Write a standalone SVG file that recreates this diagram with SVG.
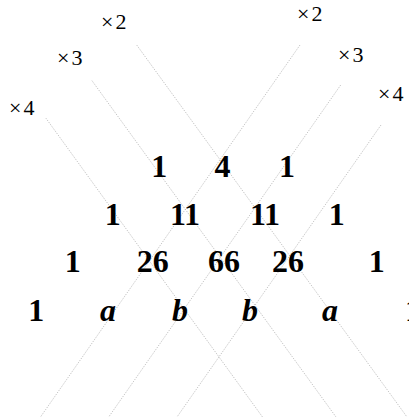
<svg xmlns="http://www.w3.org/2000/svg" width="409" height="419" viewBox="0 0 409 419">
<style>
.lbl{font-family:"Liberation Serif",serif;font-size:22px;letter-spacing:2px;fill:#000}
.num{font-family:"Liberation Serif",serif;font-size:32px;font-weight:bold;fill:#000;text-anchor:middle}
.var{font-family:"Liberation Serif",serif;font-size:32px;font-weight:bold;font-style:italic;fill:#000;text-anchor:middle}
.ln{stroke:#a8a8a8;stroke-width:0.8;stroke-dasharray:1 1.3;fill:none}
</style>
<rect width="409" height="419" fill="#fff"/>
<g id="connectors">
<line class="ln" x1="136.7" y1="45" x2="407" y2="417"/>
<line class="ln" x1="92" y1="80.7" x2="336" y2="417"/>
<line class="ln" x1="46" y1="118.3" x2="262.5" y2="417"/>
<line class="ln" x1="300" y1="45" x2="40.5" y2="417"/>
<line class="ln" x1="340.7" y1="85" x2="108.7" y2="417"/>
<line class="ln" x1="381" y1="125" x2="177" y2="417"/>
</g>
<g id="labels">
<text id="lx2l" class="lbl" x="101" y="29">×2</text>
<text id="lx3l" class="lbl" x="57" y="65">×3</text>
<text id="lx4l" class="lbl" x="9" y="115">×4</text>
<text id="lx2r" class="lbl" x="297" y="21">×2</text>
<text id="lx3r" class="lbl" x="338" y="62">×3</text>
<text id="lx4r" class="lbl" x="378" y="101">×4</text>
</g>
<g id="row1">
<text class="num" x="159.3" y="177">1</text>
<text class="num" x="222.5" y="177">4</text>
<text class="num" x="287" y="177">1</text>
</g>
<g id="row2">
<text class="num" x="112.7" y="225">1</text>
<text class="num" x="185" y="225">11</text>
<text class="num" x="265" y="225">11</text>
<text class="num" x="336.7" y="225">1</text>
</g>
<g id="row3">
<text class="num" x="72.7" y="272">1</text>
<text class="num" x="152.8" y="272">26</text>
<text class="num" x="224" y="272">66</text>
<text class="num" x="288" y="272">26</text>
<text class="num" x="376.7" y="272">1</text>
</g>
<g id="row4">
<text class="num" x="36.3" y="321">1</text>
<text class="var" x="108" y="321">a</text>
<text class="var" x="180" y="321">b</text>
<text class="var" x="250" y="321">b</text>
<text class="var" x="330" y="321">a</text>
<text class="num" x="413" y="321">1</text>
</g>
</svg>
